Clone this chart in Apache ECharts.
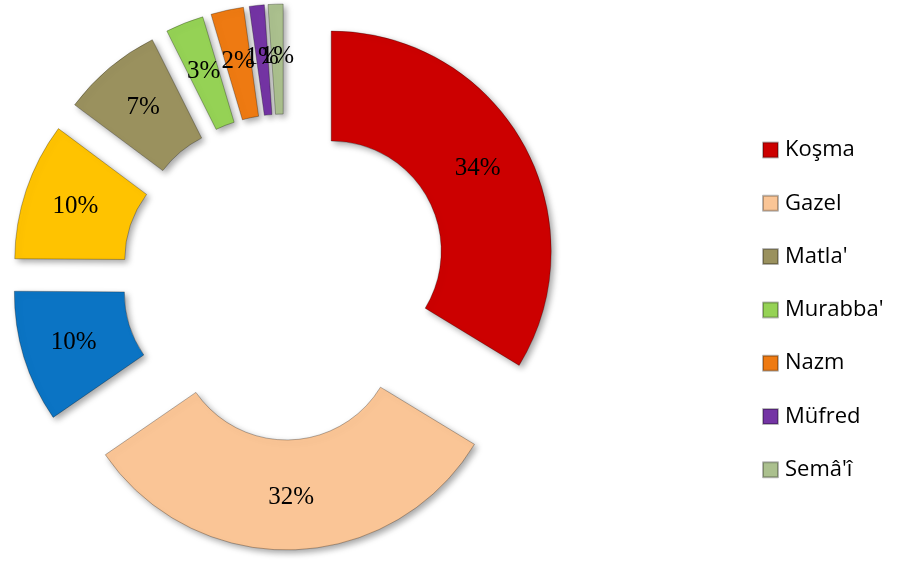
<!DOCTYPE html>
<html>
<head>
<meta charset="utf-8">
<script src="https://cdn.jsdelivr.net/npm/echarts@6/dist/echarts.min.js"></script>
<style>
html,body{margin:0;padding:0;background:#fff;}
#chart{width:901px;height:561px;}
</style>
</head>
<body>
<div id="chart"></div>
<script>
// Data (slice shares estimated from the drawn angles; labels round them)
const categories = ['Koşma', 'Gazel', 'Türkü', 'Divan', "Matla'", "Murabba'", 'Nazm', 'Müfred', "Semâ'î"];
const values = [33.7, 31.7, 9.7, 10.1, 7.4, 2.8, 2.4, 1.1, 1.1];
const legendNames = ['Koşma', 'Gazel', "Matla'", "Murabba'", 'Nazm', 'Müfred', "Semâ'î"];
const colors = ['#CC0000', '#FAC596', '#0B74C4', '#FFC300', '#9A915E', '#95D255', '#EE7A12', '#7434A4', '#ABC08E'];

const chart = echarts.init(document.getElementById('chart'), null, {renderer: 'canvas'});

const sliceData = categories.map((n, i) => ({
  name: n,
  value: values[i],
  selected: true,
  itemStyle: {color: colors[i]}
}));

chart.setOption({
  animation: false,
  backgroundColor: '#ffffff',
  legend: {
    orient: 'vertical',
    left: 762,
    top: 138,
    padding: 0,
    itemWidth: 15,
    itemHeight: 15,
    itemGap: 29.3,
    icon: 'rect',
    selectedMode: false,
    data: legendNames.map(n => ({name: n})),
    textStyle: {
      fontFamily: '"Open Sans", Lato, sans-serif',
      fontSize: 22,
      lineHeight: 24,
      color: '#000',
      padding: [0, 0, 0, 2]
    }
  },
  series: [{
    type: 'pie',
    center: [285, 277],
    radius: [110, 220],
    startAngle: 90,
    clockwise: true,
    selectedMode: 'multiple',
    selectedOffset: 53,
    avoidLabelOverlap: false,
    emphasis: {disabled: true},
    label: {
      show: true,
      position: 'inside',
      formatter: p => Math.round(p.percent) + '%',
      color: '#000',
      fontFamily: '"Liberation Serif", "Times New Roman", serif',
      fontSize: 25
    },
    labelLine: {show: false},
    labelLayout: {hideOverlap: false},
    itemStyle: {
      borderColor: 'rgba(0,0,0,0.28)',
      borderWidth: 1,
      shadowBlur: 6,
      shadowOffsetX: 3,
      shadowOffsetY: 3,
      shadowColor: 'rgba(0,0,0,0.35)'
    },
    data: sliceData
  }]
});
</script>
</body>
</html>
